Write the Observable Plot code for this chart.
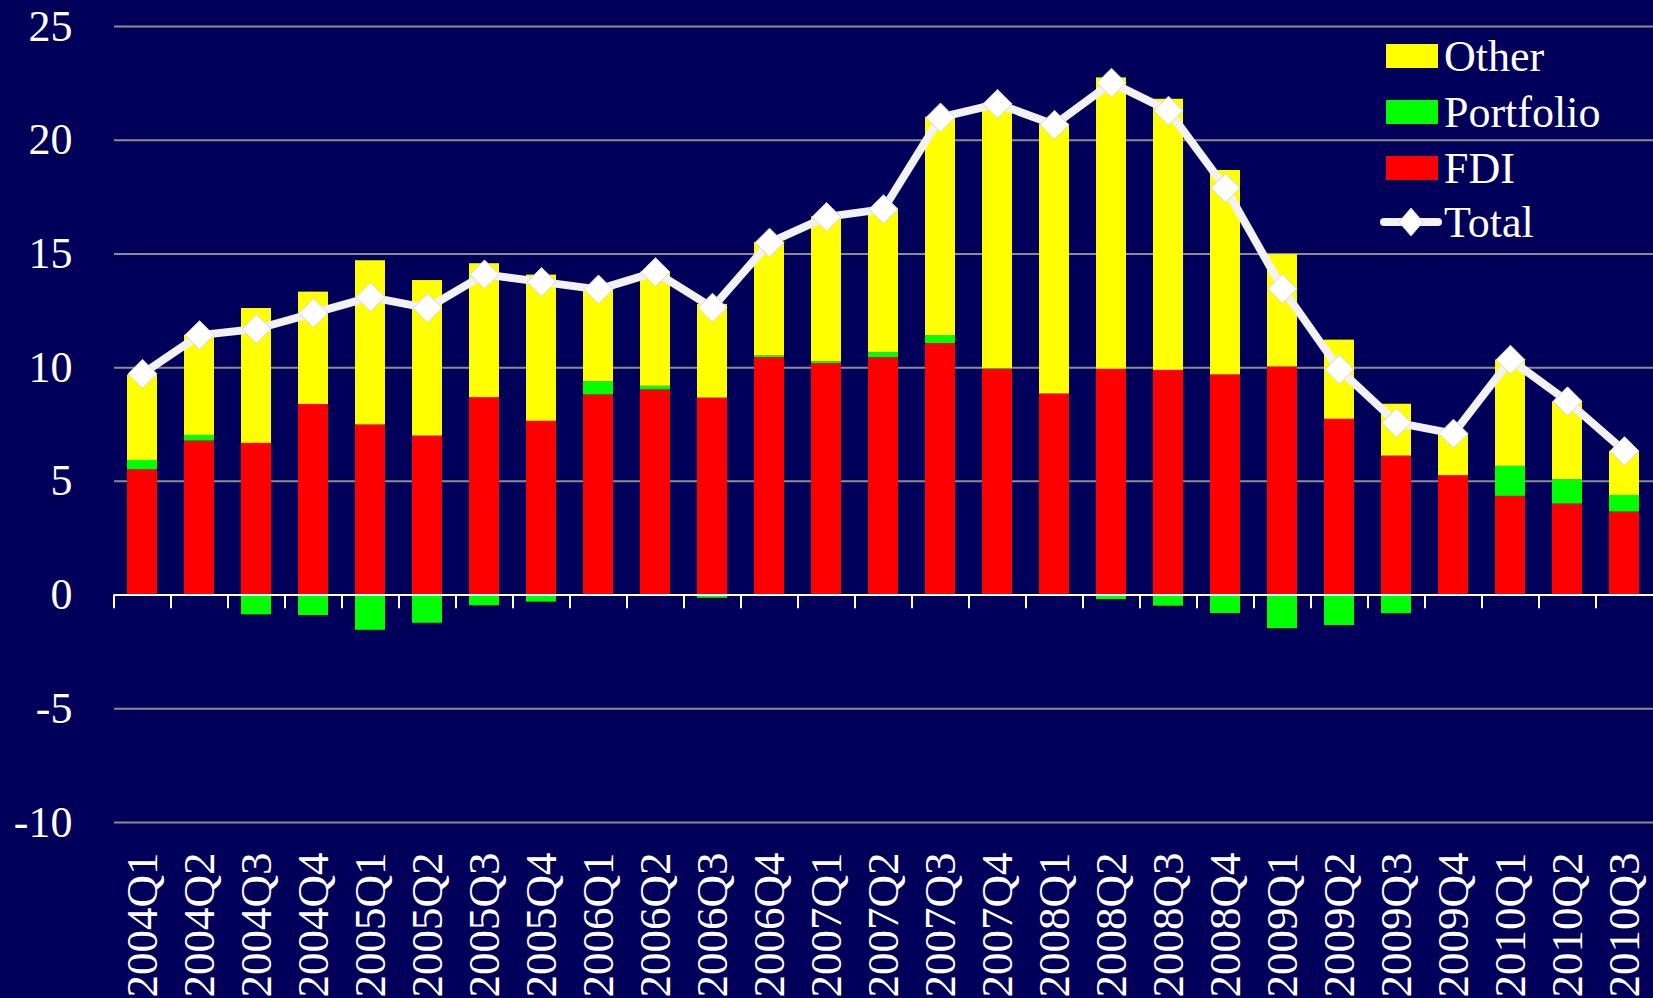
<!DOCTYPE html>
<html>
<head>
<meta charset="utf-8">
<script src="https://cdn.jsdelivr.net/npm/d3@7"></script>
<script src="https://cdn.jsdelivr.net/npm/@observablehq/plot@0.6"></script>
<style>
  html, body { margin: 0; padding: 0; background: #00005A; overflow: hidden; }
  #wrap { position: relative; width: 1653px; height: 998px; overflow: hidden; }
  #legend { position: absolute; left: 0; top: 0; font-family: "Liberation Serif", serif; color: white; }
  .row { position: absolute; display: flex; align-items: center; height: 56px; font-size: 44px; white-space: nowrap; }
  .sw { width: 52px; height: 24px; margin-right: 6px; }
</style>
</head>
<body>
<div id="wrap"><div id="chart"></div><div id="legend"></div></div>
<script>
const quarters = ["2004Q1","2004Q2","2004Q3","2004Q4","2005Q1","2005Q2","2005Q3","2005Q4",
  "2006Q1","2006Q2","2006Q3","2006Q4","2007Q1","2007Q2","2007Q3","2007Q4",
  "2008Q1","2008Q2","2008Q3","2008Q4","2009Q1","2009Q2","2009Q3","2009Q4",
  "2010Q1","2010Q2","2010Q3"];
const fdi = [5.51, 6.77, 6.67, 8.38, 7.48, 6.99, 8.68, 7.64, 8.80, 9.02, 8.66, 10.44, 10.18, 10.44, 11.06, 9.93,
  8.84, 9.93, 9.88, 9.68, 10.03, 7.73, 6.11, 5.25, 4.34, 4.00, 3.65];
const portfolio = [0.41, 0.25, -0.87, -0.90, -1.55, -1.24, -0.47, -0.31, 0.58, 0.16, -0.14, 0.07, 0.08, 0.22, 0.34, 0.03,
  0.00, -0.20, -0.49, -0.81, -1.48, -1.34, -0.82, 0.00, 1.32, 1.07, 0.73];
const other = [3.75, 4.41, 5.93, 4.94, 7.22, 6.84, 5.89, 6.43, 4.05, 5.02, 4.12, 4.99, 6.37, 6.29, 9.61, 11.66,
  11.86, 12.81, 11.92, 8.99, 4.94, 3.48, 2.28, 1.83, 4.67, 3.43, 1.94];
const total = [9.73, 11.43, 11.70, 12.40, 13.10, 12.62, 14.10, 13.77, 13.44, 14.20, 12.64, 15.50, 16.63, 16.97, 21.00, 21.60,
  20.68, 22.53, 21.30, 17.90, 13.47, 9.92, 7.58, 7.10, 10.35, 8.52, 6.33];
const series = ["FDI", "Portfolio", "Other"];
const colors = ["#FF0000", "#00FF00", "#FFFF00"];
const yTicks = [-10, -5, 0, 5, 10, 15, 20, 25];
const gridTicks = [-10, -5, 5, 10, 15, 20, 25];
const legendItems = ["Other", "Portfolio", "FDI", "Total"];

const FONT = '"Liberation Serif", serif';

const rows = quarters.flatMap((q, i) => [
  {q, s: "FDI", v: fdi[i]},
  {q, s: "Portfolio", v: portfolio[i]},
  {q, s: "Other", v: other[i]}
]);
const tot = quarters.map((q, i) => ({q, v: total[i]}));

const chart = Plot.plot({
  width: 1653, height: 998,
  marginLeft: 114, marginRight: 0, marginTop: 26, marginBottom: 176,
  style: {background: "#00005A", color: "white", fontFamily: FONT, overflow: "visible"},
  x: {domain: quarters, paddingInner: 0.47, paddingOuter: 0.235, label: null},
  y: {domain: [-10, 25], label: null},
  color: {domain: series, range: colors},
  marks: [
    Plot.ruleY(gridTicks, {stroke: "#8c8c8c", strokeWidth: 2}),
    Plot.barY(rows, {x: "q", y: "v", fill: "s", order: series}),
    Plot.ruleY([0], {stroke: "white", strokeWidth: 2}),
    Plot.ruleX(quarters, {x: d => d, y1: 0, y2: -0.6, stroke: "white", strokeWidth: 2, dx: -28.5}),
    Plot.line(tot, {x: "q", y: "v", stroke: "#f2f2f2", strokeWidth: 8}),
    Plot.dot(tot, {x: "q", y: "v", symbol: "diamond2", r: 13, fill: "white", stroke: "#d6d6d6", strokeWidth: 1}),
    Plot.axisY({ticks: yTicks, tickSize: 0, tickPadding: 42, fontSize: 44, fill: "white", fontFamily: FONT, tickFormat: d => String(d)}),
    Plot.axisX({tickSize: 0, tickPadding: 30, tickRotate: -90, fontSize: 45, fill: "white", fontFamily: FONT})
  ]
});
document.getElementById("chart").appendChild(chart);

// legend overlay
const legend = document.getElementById("legend");
const centers = [56, 112, 168, 222];
legendItems.forEach((name, i) => {
  const row = document.createElement("div");
  row.className = "row";
  row.style.top = (centers[i] - 28) + "px";
  if (name === "Total") {
    row.style.left = "1378px";
    row.innerHTML = `<svg width="66" height="40"><line x1="6" y1="20" x2="60" y2="20" stroke="#f2f2f2" stroke-width="8" stroke-linecap="round"/><path d="M33,6 L45,20 L33,34 L21,20 Z" fill="white" stroke="#d6d6d6" stroke-width="1"/></svg><span>${name}</span>`;
  } else {
    row.style.left = "1386px";
    const c = colors[series.indexOf(name)];
    row.innerHTML = `<div class="sw" style="background:${c}"></div><span>${name}</span>`;
  }
  legend.appendChild(row);
});
</script>
</body>
</html>
